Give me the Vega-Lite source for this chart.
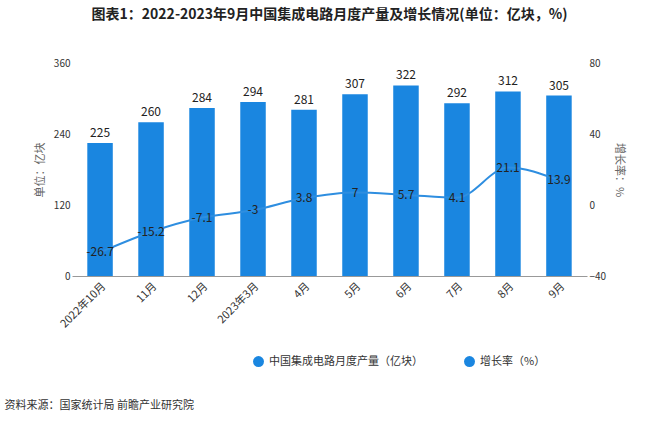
{
  "$schema": "https://vega.github.io/schema/vega-lite/v6.json",
  "width": 515,
  "height": 213,
  "padding": {"left": 4, "top": 8, "right": 10, "bottom": 5},
  "background": "white",
  "config": {"font": "Noto Sans CJK SC", "view": {"stroke": null}},
  "title": {"text": "图表1：2022-2023年9月中国集成电路月度产量及增长情况(单位：亿块，%)", "fontSize": 14, "fontWeight": "bold", "color": "#222", "offset": 36, "anchor": "middle"},
  "data": {"values": [
    {"m": "2022年10月", "v": 225, "g": -26.7},
    {"m": "11月", "v": 260, "g": -15.2},
    {"m": "12月", "v": 284, "g": -7.1},
    {"m": "2023年3月", "v": 294, "g": -3},
    {"m": "4月", "v": 281, "g": 3.8},
    {"m": "5月", "v": 307, "g": 7},
    {"m": "6月", "v": 322, "g": 5.7},
    {"m": "7月", "v": 292, "g": 4.1},
    {"m": "8月", "v": 312, "g": 21.1},
    {"m": "9月", "v": 305, "g": 13.9}
  ]},
  "encoding": {
    "x": {"field": "m", "type": "nominal", "sort": null,
      "axis": {"labelAngle": -45, "labelFontSize": 11, "labelColor": "#333", "domainColor": "#999", "ticks": false, "labelPadding": 4,
        "title": "资料来源：国家统计局 前瞻产业研究院", "titleFontSize": 11, "titleFontWeight": "normal", "titleColor": "#333", "titleAnchor": "start", "titleX": -68, "titleY": 123},
      "scale": {"paddingInner": 0.5, "paddingOuter": 0.3}}
  },
  "layer": [
    {
      "layer": [
        {"mark": {"type": "bar", "color": "#1a86e0"},
          "encoding": {
            "y": {"field": "v", "type": "quantitative", "scale": {"domain": [0, 360], "nice": false},
              "axis": {"values": [0, 120, 240, 360], "title": "单位：亿块", "titleFontSize": 11, "titleFontWeight": "normal", "titleColor": "#666", "labelColor": "#333", "domain": false, "ticks": false, "grid": false, "titlePadding": 8}},
            "color": {"datum": "中国集成电路月度产量（亿块）", "type": "nominal",
              "scale": {"domain": ["中国集成电路月度产量（亿块）", "增长率（%）"], "range": ["#1a86e0", "#1a86e0"]},
              "legend": {"orient": "none", "legendX": 180, "legendY": 292, "direction": "horizontal", "title": null, "symbolType": "circle", "symbolSize": 120, "labelFontSize": 11, "columnPadding": 40, "labelColor": "#333"}}
          }},
        {"mark": {"type": "text", "dy": -10, "fontSize": 12, "color": "#222"},
          "encoding": {"y": {"field": "v", "type": "quantitative"}, "text": {"field": "v"}}}
      ]
    },
    {
      "layer": [
        {"mark": {"type": "line", "color": "#2e8ee0", "strokeWidth": 2, "interpolate": "monotone"},
          "encoding": {"y": {"field": "g", "type": "quantitative", "scale": {"domain": [-40, 80], "nice": false},
            "axis": {"values": [-40, 0, 40, 80], "orient": "right", "title": "增长率：%", "titleAngle": 90, "titleFontSize": 11, "titleFontWeight": "normal", "titleColor": "#666", "labelColor": "#333", "domain": false, "ticks": false, "grid": false, "titlePadding": 8}}}},
        {"mark": {"type": "text", "fontSize": 12, "color": "#222"},
          "encoding": {"y": {"field": "g", "type": "quantitative"}, "text": {"field": "g"}}}
      ]
    }
  ],
  "resolve": {"scale": {"y": "independent"}}
}
